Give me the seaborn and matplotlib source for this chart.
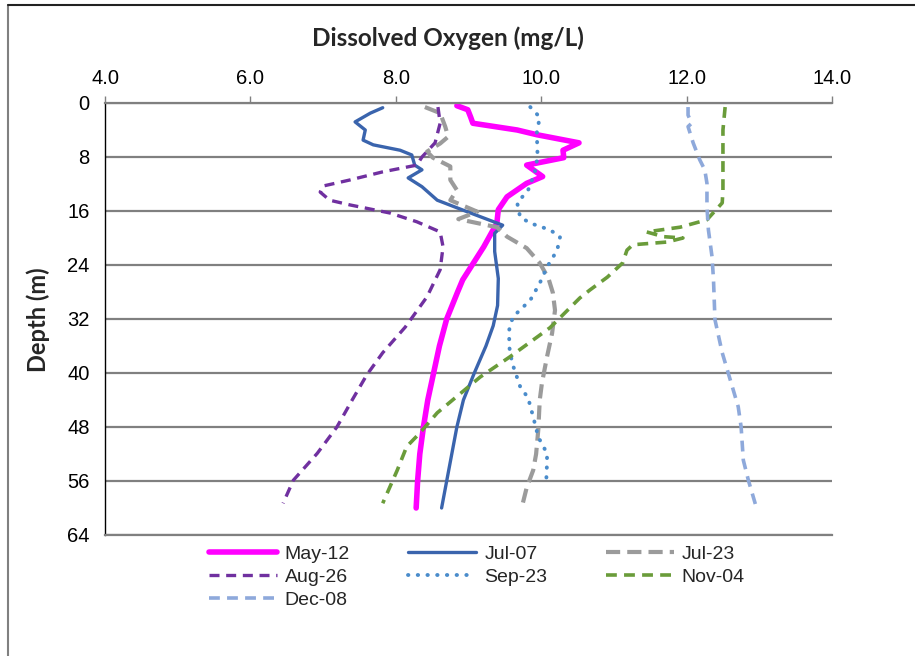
import matplotlib
matplotlib.use("Agg")
import matplotlib.pyplot as plt
import seaborn as sns
from matplotlib.lines import Line2D

# ---- data (dissolved oxygen mg/L vs depth m) ----
may12_depth = [0.4, 1.0, 2.1, 3.0, 4.0, 4.7, 5.9, 7.0, 8.1, 9.2, 10.9, 11.9, 13.9, 15.8, 17.8,
               21.3, 24, 26.2, 28, 32, 36, 40, 44, 48, 52, 56, 60]
may12_do = [8.84, 8.99, 9.03, 9.06, 9.67, 9.94, 10.52, 10.30, 10.31, 9.80, 10.02, 9.80, 9.53, 9.41, 9.39,
            9.21, 9.05, 8.92, 8.85, 8.70, 8.60, 8.52, 8.44, 8.38, 8.33, 8.30, 8.28]

jul07_depth = [0.7, 1.5, 2.8, 4.0, 5.5, 6.2, 7.0, 7.7, 9.2, 9.9, 11.1, 12.4, 14.4, 16.1, 18.1, 19.3,
               22, 26, 30, 33, 36, 40, 44, 48, 52, 56, 60]
jul07_do = [7.82, 7.65, 7.44, 7.58, 7.55, 7.69, 8.06, 8.22, 8.26, 8.36, 8.17, 8.36, 8.57, 8.98, 9.47, 9.36,
            9.36, 9.41, 9.40, 9.34, 9.24, 9.08, 8.93, 8.84, 8.77, 8.70, 8.63]

jul23_depth = [0.6, 1.5, 3.5, 5.0, 6.0, 7.2, 8.1, 9.4, 11.4, 12.9, 14.4, 16.1, 17.2, 18.4, 19.8, 21.5,
               23.7, 26, 28.1, 30.7, 34.1, 37.6, 41.5, 44.0, 48.4, 52, 54.4, 57, 59.6]
jul23_do = [8.40, 8.61, 8.68, 8.72, 8.61, 8.43, 8.51, 8.75, 8.75, 8.84, 8.75, 9.12, 8.86, 9.39, 9.53, 9.80,
            9.98, 10.10, 10.16, 10.19, 10.15, 10.08, 10.01, 9.98, 9.96, 9.93, 9.89, 9.80, 9.74]

aug26_depth = [0.6, 3.0, 5.9, 8.0, 9.2, 10.2, 11.4, 12.3, 13.2, 14.4, 15.1, 16.3, 17.6, 19.1, 21.3,
               24.7, 28.7, 33.2, 37.0, 40.3, 44, 48, 51.9, 55.9, 59.3]
aug26_do = [8.58, 8.61, 8.54, 8.36, 8.29, 7.82, 7.37, 7.00, 6.96, 7.09, 7.37, 7.92, 8.29, 8.61, 8.65,
            8.61, 8.43, 8.13, 7.82, 7.60, 7.40, 7.19, 6.92, 6.59, 6.45]

sep23_depth = [0.6, 2.1, 4.4, 8.0, 10.4, 12.9, 14.8, 16.9, 17.8, 18.8, 19.8, 21.8, 24.3, 26.7, 29.2,
               31.7, 33.6, 36.1, 38.5, 42.0, 43.7, 46.5, 49.5, 51.9, 53.3, 55.9]
sep23_do = [9.85, 9.98, 9.94, 9.95, 9.91, 9.82, 9.67, 9.71, 9.85, 10.12, 10.26, 10.22, 10.08, 9.98, 9.85,
            9.61, 9.56, 9.56, 9.60, 9.71, 9.82, 9.89, 9.96, 10.08, 10.08, 10.07]

nov04_depth = [0.6, 4.0, 8.0, 12.9, 14.8, 17.3, 18.4, 19.1, 19.8, 20.0, 20.6, 21.0, 21.8, 23.7, 25.8,
               27.7, 28.9, 33.3, 37.6, 40.6, 45.9, 48.9, 50.9, 54.4, 59.3]
nov04_do = [12.53, 12.50, 12.50, 12.50, 12.49, 12.28, 11.91, 11.45, 11.68, 11.95, 11.73, 11.26, 11.18,
            11.12, 10.91, 10.67, 10.53, 10.12, 9.57, 9.16, 8.57, 8.33, 8.15, 8.02, 7.82]

dec08_depth = [0.6, 1.8, 3.0, 3.5, 5.9, 8.4, 9.9, 11.9, 15.4, 18.8, 22.8, 26.2, 32.1, 37.0, 41.0,
               45.0, 48.0, 52.9, 55.9, 60.3]
dec08_do = [12.02, 12.02, 12.07, 12.02, 12.09, 12.18, 12.25, 12.28, 12.28, 12.30, 12.35, 12.37, 12.39,
            12.49, 12.60, 12.71, 12.75, 12.78, 12.85, 12.97]

x_ticks = [4.0, 6.0, 8.0, 10.0, 12.0, 14.0]
y_ticks = [0, 8, 16, 24, 32, 40, 48, 56, 64]

sns.set_theme(style="white")
plt.rcParams['font.family'] = ['Liberation Sans', 'DejaVu Sans']

fig = plt.figure(figsize=(9.15, 6.56), dpi=100)
ax = fig.add_axes([105/915, 1-535/656, (832-105)/915, (535-103)/656])

series = [
    ("May-12", may12_do, may12_depth, dict(color="#FF00FF", lw=4.0, linestyle="-")),
    ("Jul-07", jul07_do, jul07_depth, dict(color="#3A64AD", lw=2.4, linestyle="-")),
    ("Jul-23", jul23_do, jul23_depth, dict(color="#9B9B9B", lw=3.0, linestyle=(0, (3.4, 1.7)))),
    ("Aug-26", aug26_do, aug26_depth, dict(color="#7030A0", lw=2.4, linestyle=(0, (3, 2)))),
    ("Sep-23", sep23_do, sep23_depth, dict(color="#4A8CCB", lw=2.8, linestyle=(0, (0.1, 2.4)),
                                           dash_capstyle="round")),
    ("Nov-04", nov04_do, nov04_depth, dict(color="#6A9C3A", lw=2.6, linestyle=(0, (3, 2)))),
    ("Dec-08", dec08_do, dec08_depth, dict(color="#8EA9DB", lw=2.6, linestyle=(0, (3, 2)))),
]

handles = {}
for name, xs, ys, style in series:
    sns.lineplot(x=xs, y=ys, sort=False, estimator=None, ax=ax, label=name, **style)
    handles[name] = ax.get_lines()[-1]
if ax.get_legend():
    ax.get_legend().remove()

ax.set_xlim(4, 14)
ax.set_ylim(64, 0)
ax.set_xticks(x_ticks)
ax.set_xticklabels([f"{v:.1f}" for v in x_ticks], fontsize=14.5)
ax.set_yticks(y_ticks)
ax.set_yticklabels([str(v) for v in y_ticks], fontsize=14.5)
ax.xaxis.tick_top()
ax.tick_params(axis='x', direction='out', length=5, color="#808080", width=1, pad=6, labelcolor="black")
ax.tick_params(axis='y', direction='out', length=6, color="#808080", width=1.2, pad=5, labelcolor="black")
ax.grid(axis='y', color="#808080", lw=1.6)
ax.grid(axis='x', visible=False)
ax.set_axisbelow(True)
ax.spines['right'].set_visible(False)
ax.spines['top'].set_color("#808080")
ax.spines['top'].set_linewidth(1.6)
ax.spines['bottom'].set_color("#808080")
ax.spines['bottom'].set_linewidth(1.6)
ax.spines['left'].set_color("black")
ax.spines['left'].set_linewidth(1.0)
ax.set_xlabel("")
ax.set_ylabel("")

fig.text(448/915, 1-38/656, "Dissolved Oxygen (mg/L)", ha="center", va="center",
         fontsize=17.5, fontweight="bold", family=["Lato", "DejaVu Sans"])
fig.text(38/915, 1-320/656, "Depth (m)", ha="center", va="center", rotation=90,
         fontsize=17, fontweight="bold", family=["Lato", "DejaVu Sans"])

order = ["May-12", "Aug-26", "Dec-08", "Jul-07", "Sep-23", "Jul-23", "Nov-04"]
leg = fig.legend([handles[n] for n in order], order, ncol=3, loc="upper left",
                 bbox_to_anchor=(209/915, 1-545/656), frameon=False, fontsize=14,
                 handlelength=3.5, handletextpad=0.4, columnspacing=3.0, labelspacing=0.28,
                 borderaxespad=0, borderpad=0)

# outer frame (left and top edges visible)
fig.add_artist(Line2D([8/915, 8/915], [0, 1-5/656], color="#808080", lw=1.5, transform=fig.transFigure))
fig.add_artist(Line2D([8/915, 1], [1-5/656, 1-5/656], color="#222222", lw=1.5, transform=fig.transFigure))

fig.savefig("out.png", dpi=100)
